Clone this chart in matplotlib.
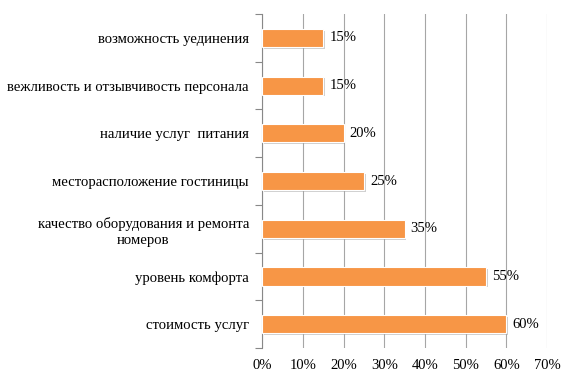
import matplotlib.pyplot as plt
import matplotlib.patheffects as pe
import numpy as np

plt.rcParams['font.family'] = ['Liberation Serif', 'DejaVu Serif']

categories = [
    'стоимость услуг',
    'уровень комфорта',
    'качество оборудования и ремонта\nномеров',
    'месторасположение гостиницы',
    'наличие услуг  питания',
    'вежливость и отзывчивость персонала',
    'возможность уединения',
]
values = [60, 55, 35, 25, 20, 15, 15]
xticks = [0, 10, 20, 30, 40, 50, 60, 70]

fig = plt.figure(figsize=(5.76, 3.8), dpi=100)
ax = fig.add_axes([0.455, 0.084, 0.495, 0.879])

y = np.arange(len(categories))
bars = ax.barh(y, values, height=0.38, color='#F79646', edgecolor='white',
               linewidth=0.8, zorder=3)
for b in bars:
    b.set_path_effects([pe.SimplePatchShadow(offset=(1.2, -1.2), shadow_rgbFace='#a0a0a0', alpha=0.5),
                        pe.Normal()])

for yi, v in zip(y, values):
    ax.text(v + 1.5, yi, f'{v}%', va='center', ha='left', fontsize=10.5, zorder=4)

ax.set_xlim(0, 70)
ax.set_ylim(-0.5, len(categories) - 0.5)
ax.set_xticks(xticks)
ax.set_xticklabels([f'{t}%' for t in xticks], fontsize=10.5)
ax.set_yticks(y)
ax.set_yticklabels(categories, fontsize=10.6, ha='right', multialignment='center',
                   linespacing=1.3)
ax.set_yticks(np.arange(-0.5, len(categories)), minor=True)
ax.tick_params(axis='y', which='major', length=0, pad=9.5)
ax.tick_params(axis='y', which='minor', length=5, color='#888888', width=0.8)
ax.tick_params(axis='x', length=0, pad=8)

ax.grid(axis='x', color='#a6a6a6', linewidth=0.8, zorder=0)
for s in ['top', 'right', 'bottom']:
    ax.spines[s].set_visible(False)
ax.spines['left'].set_color('#888888')
ax.spines['left'].set_linewidth(0.8)

fig.savefig('out.png', dpi=100)
